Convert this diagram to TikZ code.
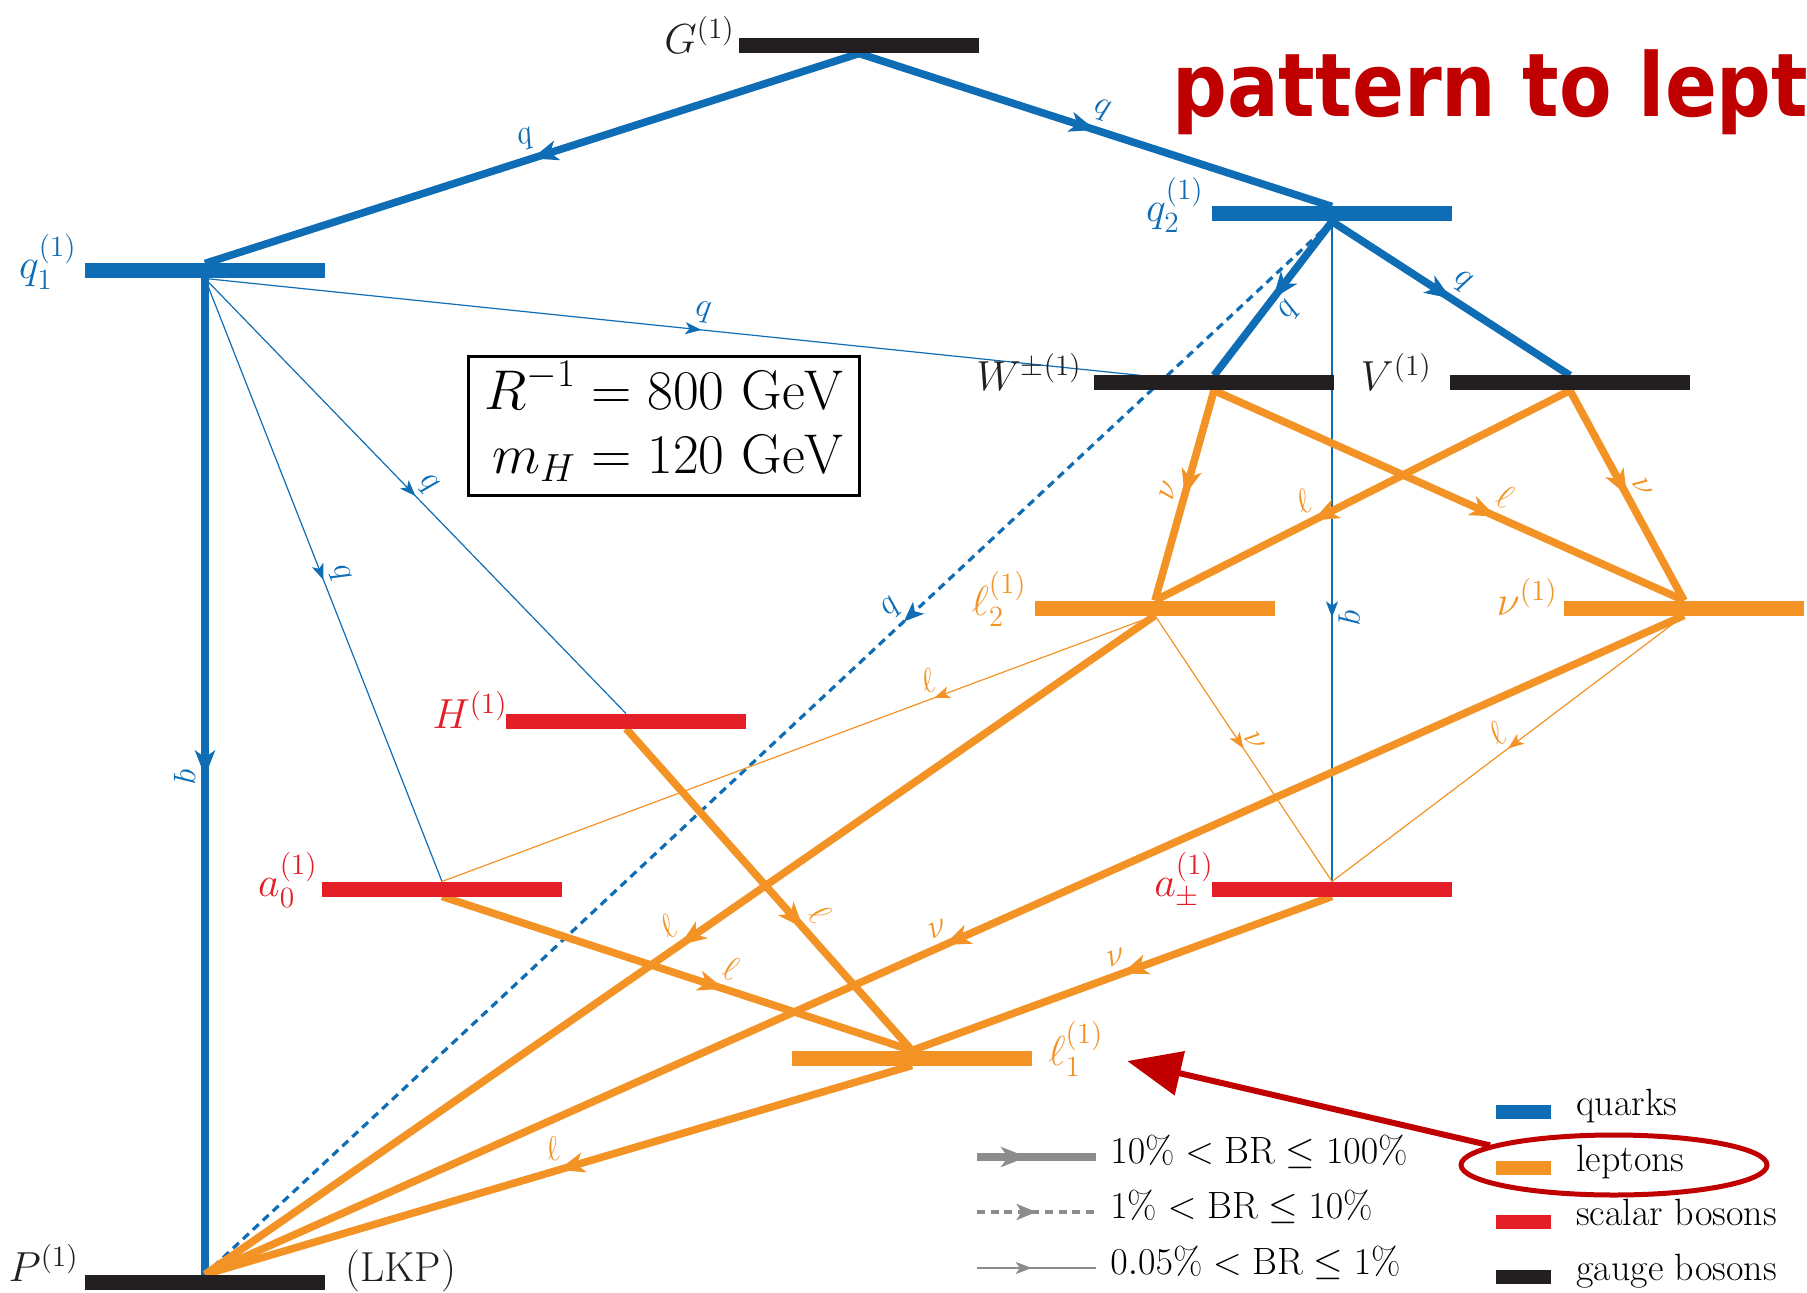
\documentclass[tikz,border=0pt]{standalone}
\usepackage{fix-cm}
\usepackage{amsmath}
\usepackage{fontspec}
\newfontfamily\notefont{DejaVu Sans}[FakeStretch=0.87]
\usepackage{tikz}
\usetikzlibrary{arrows.meta,decorations.markings,shapes.geometric,backgrounds,calc}
\definecolor{quark}{HTML}{0F6DB5}
\definecolor{lepton}{HTML}{F39325}
\definecolor{scalar}{HTML}{E31E26}
\definecolor{gauge}{HTML}{231F20}
\definecolor{alert}{HTML}{C00000}
\definecolor{keyline}{HTML}{8C8C8C}
\newcommand{\lvlfont}{\fontsize{21}{25}\selectfont}
\newcommand{\keyfont}{\fontsize{19}{22}\selectfont}

\begin{document}
\begin{tikzpicture}[x=0.5pt, y=-0.5pt,
  lvl/.style={minimum width=120pt, minimum height=7.5pt, inner sep=0pt, outer sep=0pt},
  lvllab/.style={anchor=base east, inner sep=0pt, font=\lvlfont},
  heavy/.style={line width=3.8pt, >={Stealth[length=13pt, width=10pt, inset=3.5pt]}},
  medium/.style={line width=1.6pt, dash pattern=on 4pt off 2.8pt, >={Stealth[length=10pt, width=8pt, inset=2.5pt]}},
  light/.style={line width=0.6pt, >={Stealth[length=8pt, width=6pt, inset=2pt]}},
  arr/.style={postaction={decorate, decoration={markings,
      mark=at position #1 with {\arrow{>}}}}},
  arr/.default=0.5,
  lab/.style={sloped, inner sep=1pt, font=\fontsize{17}{19}\selectfont},
  keybox/.style={minimum width=27.5pt, minimum height=7pt, inner sep=0pt},
  keylab/.style={anchor=base west, inner sep=0pt, font=\keyfont}]

\useasboundingbox (0,0) rectangle (1807,1293);

% levels
\node[lvl, fill=gauge]  (G)   at (859,46)   {};
\node[lvl, fill=quark]  (q2)  at (1332,214) {};
\node[lvl, fill=quark]  (q1)  at (205,271)  {};
\node[lvl, fill=gauge]  (W)   at (1214,383) {};
\node[lvl, fill=gauge]  (V)   at (1570,383) {};
\node[lvl, fill=lepton] (l2)  at (1155,608) {};
\node[lvl, fill=scalar] (H)   at (626,721)  {};
\node[lvl, fill=scalar] (a0)  at (442,889)  {};
\node[lvl, fill=scalar] (apm) at (1332,889) {};
\node[lvl, fill=lepton] (l1)  at (912,1058) {};
\node[lvl, fill=gauge]  (P)   at (205,1282) {};
\begin{scope}
  \clip (0,0) rectangle (1807,1293);
  \node[lvl, fill=lepton] (nu) at (1684,608) {};
  \node[anchor=base west, inner sep=0pt, text=alert,
        font=\notefont\bfseries\fontsize{44}{46}\selectfont] (note) at (1172,117) {pattern to leptons};
\end{scope}

\node[lvllab, gauge]  (Glab)   at ([xshift=-2pt]G.south west)   {$G^{(1)}$};
\node[lvllab, quark]  (q2lab)  at ([xshift=-4pt]q2.south west)  {$q_2^{(1)}$};
\node[lvllab, quark]  (q1lab)  at ([xshift=-4pt]q1.south west)  {$q_1^{(1)}$};
\node[lvllab, gauge]  (Wlab)   at ([xshift=-6pt]W.south west)   {$W^{\pm(1)}$};
\node[lvllab, gauge]  (Vlab)   at ([xshift=-9pt]V.south west)   {$V^{(1)}$};
\node[lvllab, lepton] (l2lab)  at ([xshift=-4pt]l2.south west)  {$\ell_2^{(1)}$};
\node[lvllab, lepton] (nulab)  at ([xshift=-3pt]nu.south west)  {$\nu^{(1)}$};
\node[lvllab, scalar] (Hlab)   at ([xshift=1pt]H.south west)    {$H^{(1)}$};
\node[lvllab, scalar] (a0lab)  at ([xshift=-2pt]a0.south west)  {$a_0^{(1)}$};
\node[lvllab, scalar] (apmlab) at ([xshift=1pt]apm.south west)  {$a_\pm^{(1)}$};
\node[lvllab, gauge]  (Plab)   at ([xshift=-3pt, yshift=4pt]P.south west) {$P^{(1)}$};
\node[lvllab, lepton, anchor=base west] (l1lab) at ([xshift=8pt]l1.south east) {$\ell_1^{(1)}$};
\node[lvllab, gauge, anchor=base west]  (lkp)   at ([xshift=10pt, yshift=4pt]P.south east) {(LKP)};

\node[draw, line width=1.6pt, minimum width=195.5pt, minimum height=69.5pt, inner sep=0pt,
      font=\fontsize{28}{29}\selectfont] (param) at (664,426)
  {$\begin{aligned} R^{-1} &= 800~\mathrm{GeV}\\ m_H &= 120~\mathrm{GeV}\end{aligned}$};

\begin{scope}[on background layer]
% quarks
\draw[heavy, quark, arr] (G.south) -- node[lab, above=2pt] {$q$} (q1.north);
\draw[heavy, quark, arr] (G.south) -- node[lab, above=2pt] {$q$} (q2.north);
\draw[heavy, quark, arr] (q1.south) -- node[lab, below=2pt] {$q$} (P.north);
\draw[light, quark, arr=0.53] (q1.south) -- node[lab, above=2pt, pos=0.53] {$q$} (W);
\draw[light, quark, arr] (q1.south) -- node[lab, above=2pt] {$q$} (a0.north);
\draw[light, quark, arr] (q1.south) -- node[lab, above=2pt] {$q$} (H.north);
\draw[heavy, quark, arr] (q2.south) -- node[lab, below=2pt] {$q$} (W.north);
\draw[heavy, quark, arr] (q2.south) -- node[lab, above=2pt] {$q$} (V.north);
\draw[light, quark, arr=0.6] (q2.south) -- node[lab, above=2pt, pos=0.6] {$q$} (apm.north);
\draw[medium, quark, arr=0.38] (q2.south) -- node[lab, above=2pt, pos=0.38] {$q$} (P.north);
% leptons
\draw[heavy, lepton, arr] (W.south) -- node[lab, above=2pt] {$\nu$} (l2.north);
\draw[heavy, lepton, arr=0.6] (W.south) -- node[lab, above=2pt, pos=0.6] {$\ell$} (nu.north);
\draw[heavy, lepton, arr=0.62] (V.south) -- node[lab, above=2pt, pos=0.62] {$\ell$} (l2.north);
\draw[heavy, lepton, arr] (V.south) -- node[lab, above=2pt] {$\nu$} (nu.north);
\draw[light, lepton, arr=0.31] (l2.south) -- node[lab, above=2pt, pos=0.31] {$\ell$} (a0.north);
\draw[heavy, lepton, arr] (l2.south) -- node[lab, above=2pt] {$\ell$} (P.north);
\draw[light, lepton, arr] (l2.south) -- node[lab, above=2pt] {$\nu$} (apm.north);
\draw[heavy, lepton, arr] (nu.south) -- node[lab, above=2pt] {$\nu$} (P.north);
\draw[light, lepton, arr] (nu.south) -- node[lab, above=2pt] {$\ell$} (apm.north);
\draw[heavy, lepton, arr=0.62] (H.south) -- node[lab, above=2pt, pos=0.62] {$\ell$} (l1.north);
\draw[heavy, lepton, arr=0.6] (a0.south) -- node[lab, above=2pt, pos=0.6] {$\ell$} (l1.north);
\draw[heavy, lepton, arr] (apm.south) -- node[lab, above=2pt] {$\nu$} (l1.north);
\draw[heavy, lepton, arr] (l1.south) -- node[lab, above=2pt] {$\ell$} (P.north);
\end{scope}

% branching ratio key
\coordinate (br1a) at (977,1157);  \coordinate (br1b) at (1096,1157);
\coordinate (br2a) at (977,1212);  \coordinate (br2b) at (1096,1212);
\coordinate (br3a) at (977,1268);  \coordinate (br3b) at (1096,1268);
\draw[heavy, keyline, arr=0.42] (br1a) -- (br1b);
\draw[medium, keyline, arr=0.5] (br2a) -- (br2b);
\draw[light, keyline, arr=0.46] (br3a) -- (br3b);
\node[keylab] (br1t) at ([xshift=7pt, yshift=-3pt]br1b) {$10\% < \mathrm{BR} \leq 100\%$};
\node[keylab] (br2t) at ([xshift=7pt, yshift=-3pt]br2b) {$1\% < \mathrm{BR} \leq 10\%$};
\node[keylab] (br3t) at ([xshift=7pt, yshift=-3pt]br3b) {$0.05\% < \mathrm{BR} \leq 1\%$};

% particle key
\node[keybox, fill=quark]  (kq) at (1523,1112) {};
\node[keybox, fill=lepton] (kl) at (1523,1168) {};
\node[keybox, fill=scalar] (ks) at (1523,1222) {};
\node[keybox, fill=gauge]  (kg) at (1523,1277) {};
\node[keylab] (kqt) at ([xshift=12.5pt, yshift=2pt]kq.south east) {quarks};
\node[keylab] (klt) at ([xshift=12.5pt, yshift=2pt]kl.south east) {leptons};
\node[keylab] (kst) at ([xshift=12.5pt, yshift=2pt]ks.south east) {scalar bosons};
\node[keylab] (kgt) at ([xshift=12.5pt, yshift=2pt]kg.south east) {gauge bosons};

% annotation
\node[ellipse, draw=alert, line width=2.5pt, minimum width=153pt, minimum height=30pt] (ring) at (1614,1165) {};
\draw[alert, line width=3pt, -{Triangle[length=27pt, width=22pt]}, shorten >=12pt] (ring.171) -- (l1lab);
\end{tikzpicture}
\end{document}
